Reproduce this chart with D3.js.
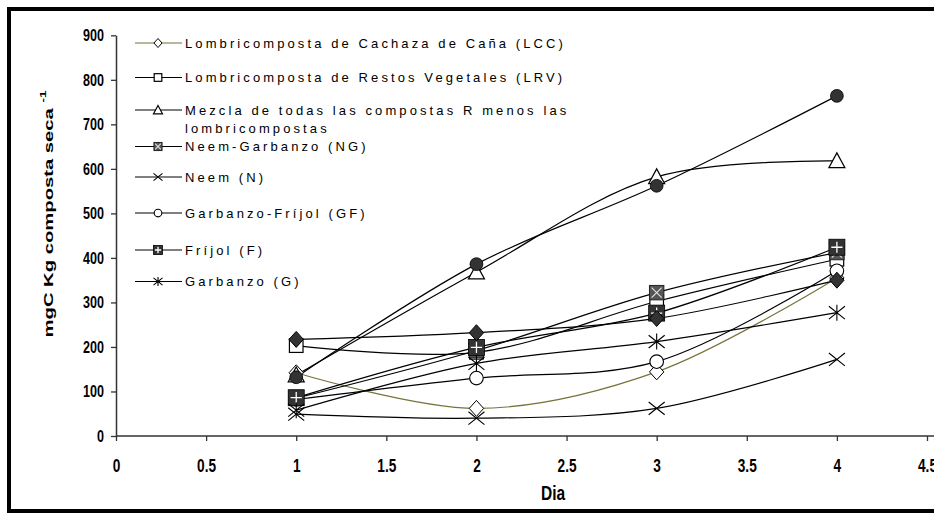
<!DOCTYPE html>
<html><head><meta charset="utf-8">
<script src="https://cdn.jsdelivr.net/npm/d3@7"></script>
<style>
html,body{margin:0;padding:0;background:#fff;}
svg{display:block;}
.tick text{font-family:"Liberation Sans",Arial,sans-serif;font-weight:bold;fill:#000;}
.leg text{font-family:"Liberation Sans",Arial,sans-serif;font-size:13px;letter-spacing:3.1px;fill:#000;}
</style></head>
<body><svg id="c" width="934" height="516"></svg>
<script>
// ---- data ----
const days = [1, 2, 3, 4];
const xTicks = [0, 0.5, 1, 1.5, 2, 2.5, 3, 3.5, 4, 4.5];
const yTicks = [0, 100, 200, 300, 400, 500, 600, 700, 800, 900];
const seriesNames = [
  "Lombricomposta de Cachaza de Caña (LCC)",
  "Lombricomposta de Restos Vegetales (LRV)",
  "Mezcla de todas las compostas R menos las|lombricompostas",
  "Neem-Garbanzo (NG)",
  "Neem (N)",
  "Garbanzo-Fríjol (GF)",
  "Fríjol (F)",
  "Garbanzo (G)",
  "",
  ""
];
const lcc      = [142, 62, 144, 355];
const lrv      = [203, 188, 302, 397];
const mezcla   = [137, 368, 582, 618];
const ng       = [85, 192, 322, 412];
const neem     = [49, 40, 62, 172];
const gf       = [82, 130, 167, 371];
const frijol   = [86, 199, 276, 424];
const garbanzo = [58, 163, 212, 277];
const serie9   = [132, 386, 562, 764];
const serie10  = [217, 232, 264, 350];
const seriesValues = [lcc, lrv, mezcla, ng, neem, gf, frijol, garbanzo, serie9, serie10];
const markerTypes = ["diamondOpen","squareOpen","triangleOpen","squareX","cross","circleOpen","squarePlus","asterisk","circleFilled","diamondFilled"];
const lineColors = ["#77733a","#000","#000","#000","#000","#000","#000","#000","#000","#000"];

// ---- layout ----
const svg = d3.select("#c");
const x = d3.scaleLinear().domain([0, 4.5]).range([116, 927]);
const y = d3.scaleLinear().domain([0, 900]).range([436, 35.3]);
const NARROW = 0.74;

// frame
svg.append("rect").attr("x", 9).attr("y", 9).attr("width", 940).attr("height", 502)
  .attr("fill", "none").attr("stroke", "#000").attr("stroke-width", 4);

// axes
const xAxis = svg.append("g").attr("transform", "translate(0,436)")
  .call(d3.axisBottom(x).tickValues(xTicks).tickFormat(d3.format("")).tickSize(5).tickSizeOuter(0));
xAxis.select(".domain").attr("stroke", "#333").attr("stroke-width", 1.5).attr("d", "M116,0H934");
xAxis.selectAll(".tick line").attr("stroke", "#333").attr("stroke-width", 1.3);
xAxis.selectAll(".tick text").attr("font-size", 18.5).attr("y", 18).attr("dy", "0.95em")
  .attr("transform", `scale(${NARROW},1)`);

const yAxis = svg.append("g").attr("transform", "translate(116,0)")
  .call(d3.axisLeft(y).tickValues(yTicks).tickSize(5).tickSizeOuter(0));
yAxis.select(".domain").attr("stroke", "#333").attr("stroke-width", 1.5);
yAxis.selectAll(".tick text").attr("font-size", 17).attr("x", -12 / NARROW)
  .attr("transform", `scale(${NARROW},1)`);
yAxis.selectAll(".tick line").attr("stroke", "#333").attr("stroke-width", 1.3);

// axis titles
svg.append("text").attr("transform", `translate(553,500) scale(${NARROW},1)`).attr("text-anchor", "middle")
  .attr("font-family", "'Liberation Sans',Arial,sans-serif")
  .attr("font-weight", "bold").attr("font-size", 21).text("Dia");

const yl = svg.append("text")
  .attr("transform", "translate(53,214) rotate(-90) scale(1.5,1)")
  .attr("text-anchor", "middle")
  .attr("font-family", "'Liberation Sans',Arial,sans-serif")
  .attr("font-weight", "bold").attr("font-size", 13.5);
yl.append("tspan").text("mgC Kg composta seca ");
yl.append("tspan").attr("font-size", 9).attr("dy", -7).text("-1");

// marker drawing
function drawMarker(g, type, s) {
  const h = s / 2;
  const dk = "#333";
  switch (type) {
    case "diamondOpen":
      g.append("path").attr("d", `M0,${-h}L${h*0.9},0L0,${h}L${-h*0.9},0Z`).attr("fill", "#fff").attr("stroke", "#000").attr("stroke-width", 1);
      break;
    case "diamondFilled":
      g.append("path").attr("d", `M0,${-h}L${h*0.9},0L0,${h}L${-h*0.9},0Z`).attr("fill", dk).attr("stroke", "#000").attr("stroke-width", 1);
      break;
    case "squareOpen":
      g.append("rect").attr("x", -h*0.85).attr("y", -h*0.85).attr("width", s*0.85).attr("height", s*0.85).attr("fill", "#fff").attr("stroke", "#000").attr("stroke-width", 1.2);
      break;
    case "triangleOpen":
      g.append("path").attr("d", `M0,${-h}L${h},${h*0.85}L${-h},${h*0.85}Z`).attr("fill", "#fff").attr("stroke", "#000").attr("stroke-width", 1.2);
      break;
    case "squareX": {
      const q = h*0.9;
      g.append("rect").attr("x", -q).attr("y", -q).attr("width", 2*q).attr("height", 2*q).attr("fill", "#555").attr("stroke", "#222").attr("stroke-width", 1);
      g.append("path").attr("d", `M${-q*0.7},${-q*0.7}L${q*0.7},${q*0.7}M${q*0.7},${-q*0.7}L${-q*0.7},${q*0.7}`).attr("stroke", "#ddd").attr("stroke-width", 1.2);
      break;
    }
    case "cross":
      g.append("path").attr("d", `M${-h},${-h*0.8}L${h},${h*0.8}M${h},${-h*0.8}L${-h},${h*0.8}`).attr("stroke", "#000").attr("stroke-width", 1.1);
      break;
    case "circleOpen":
      g.append("circle").attr("r", h*0.85).attr("fill", "#fff").attr("stroke", "#000").attr("stroke-width", 1.1);
      break;
    case "circleFilled":
      g.append("circle").attr("r", h*0.8).attr("fill", dk).attr("stroke", "#000").attr("stroke-width", 0.8);
      break;
    case "squarePlus": {
      const q = h;
      g.append("rect").attr("x", -q).attr("y", -q).attr("width", 2*q).attr("height", 2*q).attr("fill", dk).attr("stroke", "#000").attr("stroke-width", 0.8);
      g.append("path").attr("d", `M0,${-q*0.7}V${q*0.7}M${-q*0.7},0H${q*0.7}`).attr("stroke", "#fff").attr("stroke-width", 1.3);
      break;
    }
    case "asterisk":
      g.append("path").attr("d", `M${-h},${-h*0.8}L${h},${h*0.8}M${h},${-h*0.8}L${-h},${h*0.8}M0,${-h}V${h}`).attr("stroke", "#000").attr("stroke-width", 1.1);
      break;
  }
}

// lines
const line = d3.line().x((d, i) => x(days[i])).y(d => y(d)).curve(d3.curveCatmullRom.alpha(0.5));
const plot = svg.append("g");
seriesValues.forEach((vals, k) => {
  plot.append("path").attr("d", line(vals)).attr("fill", "none")
    .attr("stroke", lineColors[k]).attr("stroke-width", 1.2);
});
// markers
seriesValues.forEach((vals, k) => {
  vals.forEach((v, i) => {
    const g = plot.append("g").attr("transform", `translate(${x(days[i])},${y(v)})`);
    drawMarker(g, markerTypes[k], 16);
  });
});

// legend
const legY = [43, 77.5, 110, 146.5, 177, 213, 250, 281.5];
const leg = svg.append("g").attr("class", "leg");
legY.forEach((ly, k) => {
  const g = leg.append("g");
  g.append("line").attr("x1", 135).attr("x2", 182).attr("y1", ly).attr("y2", ly)
    .attr("stroke", lineColors[k]).attr("stroke-width", 1.2);
  const m = g.append("g").attr("transform", `translate(158,${ly})`);
  drawMarker(m, markerTypes[k], 9);
  const parts = seriesNames[k].split("|");
  parts.forEach((p, j) => {
    g.append("text").attr("x", 185).attr("y", ly + 4.5 + j * 18).text(p);
  });
});
</script></body></html>
